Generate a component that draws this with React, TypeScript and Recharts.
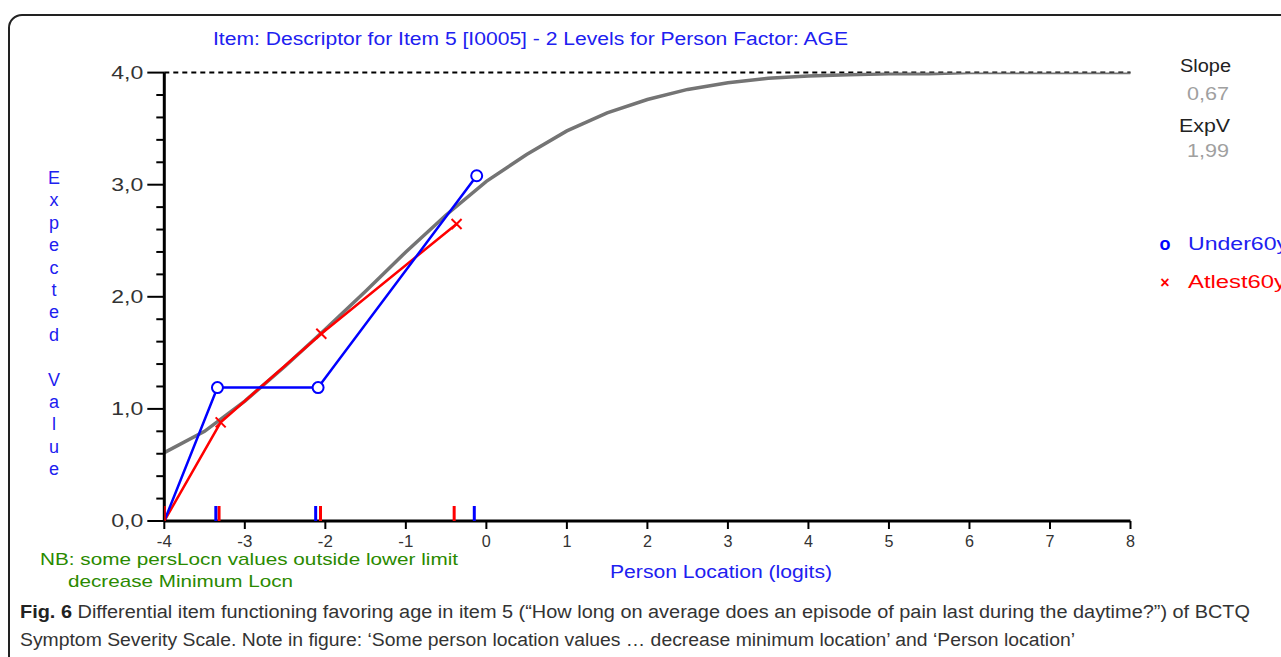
import React from 'react';
import { ComposedChart, Line, Scatter, XAxis, YAxis, ReferenceLine } from 'recharts';

const xTicks = [-4, -3, -2, -1, 0, 1, 2, 3, 4, 5, 6, 7, 8];
const yTicks = [0, 0.2, 0.4, 0.6, 0.8, 1, 1.2, 1.4, 1.6, 1.8, 2, 2.2, 2.4, 2.6, 2.8, 3, 3.2, 3.4, 3.6, 3.8, 4];

const curveX = [-4, -3.5, -3, -2.5, -2, -1.5, -1, -0.5, 0, 0.5, 1, 1.5, 2, 2.5, 3, 3.5, 4, 4.5, 5, 5.5, 6, 6.5, 7, 7.5, 8];
const curveY = [0.61, 0.8, 1.07, 1.38, 1.71, 2.05, 2.4, 2.73, 3.03, 3.27, 3.48, 3.64, 3.76, 3.85, 3.91, 3.95, 3.97, 3.98, 3.99, 3.99, 4.0, 4.0, 4.0, 4.0, 4.0];

const underX = [-4, -3.34, -2.09, -0.12];
const underY = [0, 1.19, 1.19, 3.08];
const atleastX = [-4, -3.3, -2.05, -0.37];
const atleastY = [0, 0.88, 1.67, 2.65];

const underRug = [-3.36, -2.12, -0.15];
const atleastRug = [-4, -3.32, -2.06, -0.4];

const yLabelLetters = ['E', 'x', 'p', 'e', 'c', 't', 'e', 'd', '', 'V', 'a', 'l', 'u', 'e'];

const curveData = curveX.map((x, i) => ({ x, y: curveY[i] }));
const underData = underX.map((x, i) => ({ x, y: underY[i] }));
const atleastData = atleastX.map((x, i) => ({ x, y: atleastY[i] }));
const underRugData = underRug.map((x) => ({ x, y: 0 }));
const atleastRugData = atleastRug.map((x) => ({ x, y: 0 }));

const FONT = "'Liberation Sans Narrow', 'Arial Narrow', 'Liberation Sans', Arial, sans-serif";
const BLUE = '#0000ff';
const RED = '#ff0000';
const TXTBLUE = '#2020f0';

const XTick = (props: any) => {
  const { x, y, payload } = props;
  return (
    <g>
      <line x1={x} x2={x} y1={y} y2={y + 8} stroke="#000" strokeWidth={2} />
      <text x={x} y={y + 26} textAnchor="middle" fontFamily={FONT} fontSize={17} fill="#333" textLength={String(payload.value).length > 1 ? 15 : 9} lengthAdjust="spacingAndGlyphs">
        {String(payload.value)}
      </text>
    </g>
  );
};

const YTick = (props: any) => {
  const { x, y, payload } = props;
  const v = payload.value;
  const major = Math.abs(v - Math.round(v)) < 1e-6;
  return (
    <g>
      <line x1={x - (major ? 17 : 8)} x2={x} y1={y} y2={y} stroke="#000" strokeWidth={2} />
      {major && (
        <text x={x - 21} y={y + 6} textAnchor="end" fontFamily={FONT} fontSize={18} fill="#333" textLength={32} lengthAdjust="spacingAndGlyphs">
          {v.toFixed(1).replace('.', ',')}
        </text>
      )}
    </g>
  );
};

const CircleDot = (props: any) => {
  const { cx, cy, index } = props;
  if (index === 0) return <g key={'c' + index} />;
  return <circle key={'c' + index} cx={cx} cy={cy} r={5.5} fill="#fff" stroke={BLUE} strokeWidth={2} />;
};

const CrossDot = (props: any) => {
  const { cx, cy, index } = props;
  if (index === 0) return <g key={'x' + index} />;
  const s = 5;
  return (
    <g key={'x' + index}>
      <line x1={cx - s} y1={cy - s} x2={cx + s} y2={cy + s} stroke={RED} strokeWidth={2} />
      <line x1={cx - s} y1={cy + s} x2={cx + s} y2={cy - s} stroke={RED} strokeWidth={2} />
    </g>
  );
};

const rugShape = (color: string) => (props: any) => {
  const { cx, cy } = props;
  return <line x1={cx} x2={cx} y1={cy} y2={cy - 15} stroke={color} strokeWidth={3} />;
};

export default function App() {
  return (
    <div style={{ position: 'absolute', left: 0, top: 0, width: 1281, height: 657, overflow: 'hidden', background: '#fff' }}>
      <div
        style={{
          position: 'absolute',
          left: 8,
          top: 14,
          width: 1320,
          height: 720,
          border: '2px solid #222',
          borderRadius: 14,
          boxSizing: 'border-box',
        }}
      />
      <div style={{ position: 'absolute', left: 0, top: 0 }}>
        <ComposedChart
          width={1281}
          height={657}
          margin={{ top: 72.6, right: 150.5, bottom: 106, left: 104.3 }}
        >
          <XAxis
            type="number"
            dataKey="x"
            domain={[-4, 8]}
            ticks={xTicks}
            interval={0}
            allowDataOverflow
            height={30}
            tickSize={0}
            tickMargin={0}
            tick={<XTick />}
            axisLine={{ stroke: '#000', strokeWidth: 3 }}
            tickLine={false}
          />
          <YAxis
            type="number"
            dataKey="y"
            domain={[0, 4]}
            ticks={yTicks}
            allowDataOverflow
            width={60}
            tickSize={0}
            tickMargin={0}
            tick={<YTick />}
            interval={0}
            axisLine={{ stroke: '#000', strokeWidth: 3 }}
            tickLine={false}
          />
          <ReferenceLine y={4} stroke="#000" strokeWidth={2} strokeDasharray="5 4" />
          <Line
            data={curveData}
            dataKey="y"
            type="linear"
            stroke="#747474"
            strokeWidth={3.5}
            dot={false}
            isAnimationActive={false}
          />
          <Line
            data={atleastData}
            dataKey="y"
            type="linear"
            stroke={RED}
            strokeWidth={2.5}
            dot={<CrossDot />}
            isAnimationActive={false}
          />
          <Line
            data={underData}
            dataKey="y"
            type="linear"
            stroke={BLUE}
            strokeWidth={2.5}
            dot={<CircleDot />}
            isAnimationActive={false}
          />
          <Scatter data={atleastRugData} dataKey="y" shape={rugShape(RED)} isAnimationActive={false} />
          <Scatter data={underRugData} dataKey="y" shape={rugShape(BLUE)} isAnimationActive={false} />
        </ComposedChart>
      </div>
      <svg
        width={1281}
        height={657}
        style={{ position: 'absolute', left: 0, top: 0, pointerEvents: 'none' }}
      >
        <text x={213} y={45} fontFamily={FONT} fontSize={18} fill={TXTBLUE} textLength={635} lengthAdjust="spacingAndGlyphs">
          Item: Descriptor for Item 5 [I0005] - 2 Levels for Person Factor: AGE
        </text>
        {yLabelLetters.map((ch, i) =>
          ch ? (
            <text key={i} x={54} y={184 + i * 22.4} textAnchor="middle" fontFamily={FONT} fontSize={18} fill={TXTBLUE}>
              {ch}
            </text>
          ) : null
        )}
        <text x={1180} y={72} fontFamily={FONT} fontSize={18} fill="#222" textLength={51} lengthAdjust="spacingAndGlyphs">Slope</text>
        <text x={1187} y={100} fontFamily={FONT} fontSize={18} fill="#a0a0a0" textLength={42} lengthAdjust="spacingAndGlyphs">0,67</text>
        <text x={1179} y={132} fontFamily={FONT} fontSize={18} fill="#222" textLength={51} lengthAdjust="spacingAndGlyphs">ExpV</text>
        <text x={1187} y={157} fontFamily={FONT} fontSize={18} fill="#a0a0a0" textLength={42} lengthAdjust="spacingAndGlyphs">1,99</text>
        <text x={1165} y={250} textAnchor="middle" fontFamily={FONT} fontSize={18} fontWeight="bold" fill={BLUE}>o</text>
        <text x={1188} y={250} fontFamily={FONT} fontSize={18} fill={TXTBLUE} textLength={100} lengthAdjust="spacingAndGlyphs">Under60y</text>
        <text x={1165} y={288} textAnchor="middle" fontFamily={FONT} fontSize={16} fontWeight="bold" fill={RED}>×</text>
        <text x={1188} y={288} fontFamily={FONT} fontSize={18} fill={RED} textLength={98} lengthAdjust="spacingAndGlyphs">Atlest60y</text>
        <text x={40} y={565} fontFamily={FONT} fontSize={17} fill="#2a8a00" textLength={418} lengthAdjust="spacingAndGlyphs">
          NB: some persLocn values outside lower limit
        </text>
        <text x={68} y={587} fontFamily={FONT} fontSize={17} fill="#2a8a00" textLength={225} lengthAdjust="spacingAndGlyphs">
          decrease Minimum Locn
        </text>
        <text x={610} y={578} fontFamily={FONT} fontSize={18} fill={TXTBLUE} textLength={222} lengthAdjust="spacingAndGlyphs">
          Person Location (logits)
        </text>
        <text x={20} y={618} fontFamily={FONT} fontSize={18} fill="#333" textLength={1230} lengthAdjust="spacingAndGlyphs">
          <tspan fontWeight="bold" fill="#222">Fig. 6</tspan>
          <tspan> Differential item functioning favoring age in item 5 (“How long on average does an episode of pain last during the daytime?”) of BCTQ</tspan>
        </text>
        <text x={20} y={646} fontFamily={FONT} fontSize={18} fill="#333" textLength={1055} lengthAdjust="spacingAndGlyphs">
          Symptom Severity Scale. Note in figure: ‘Some person location values … decrease minimum location’ and ‘Person location’
        </text>
      </svg>
    </div>
  );
}
